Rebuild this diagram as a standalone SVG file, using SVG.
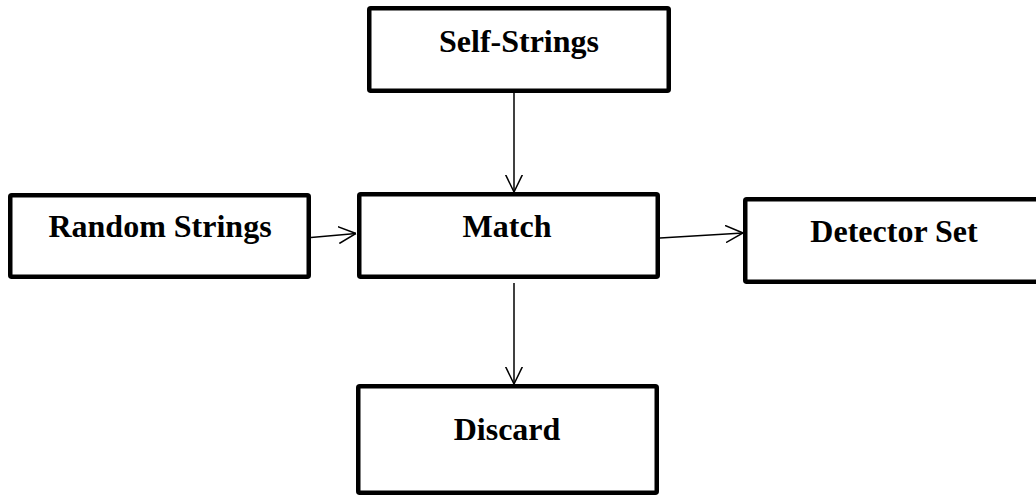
<svg xmlns="http://www.w3.org/2000/svg" width="1036" height="497" viewBox="0 0 1036 497">
  <style>
    .box { fill: #ffffff; stroke: #000000; stroke-width: 4.5; stroke-linejoin: round; }
    .label { font-family: "Liberation Serif", "Times New Roman", serif; font-weight: bold; font-size: 32px; fill: #000000; text-anchor: middle; }
    .edge { fill: none; stroke: #000000; stroke-width: 1.5; marker-end: url(#head); }
  </style>
  <defs>
    <marker id="head" viewBox="0 0 18 18" refX="17.5" refY="9" markerWidth="18" markerHeight="18" markerUnits="userSpaceOnUse" orient="auto">
      <path d="M0,0.5 L17.5,9 L0,17.5" fill="none" stroke="#000000" stroke-width="1.5"/>
    </marker>
  </defs>
  <rect width="1036" height="497" fill="#ffffff"/>

  <g id="connectors">
    <path class="edge" d="M514,93 L514,192"/>
    <path class="edge" d="M311,237.5 L356,233.5"/>
    <path class="edge" d="M660,238 L743,233"/>
    <path class="edge" d="M514,283 L514,384"/>
  </g>

  <g id="self-strings">
    <rect class="box" x="369.25" y="8.25" width="299.5" height="82.5" rx="1.5"/>
    <text class="label" x="519" y="52">Self-Strings</text>
  </g>
  <g id="random-strings">
    <rect class="box" x="10.25" y="195.25" width="298.5" height="81.5" rx="1.5"/>
    <text class="label" x="160" y="237">Random Strings</text>
  </g>
  <g id="match">
    <rect class="box" x="359.25" y="194.25" width="298.5" height="82.5" rx="1.5"/>
    <text class="label" x="507" y="237">Match</text>
  </g>
  <g id="detector-set">
    <rect class="box" x="745.25" y="199.25" width="298" height="82.5" rx="1.5"/>
    <text class="label" x="894" y="242">Detector Set</text>
  </g>
  <g id="discard">
    <rect class="box" x="358.25" y="386.25" width="298.5" height="106.5" rx="1.5"/>
    <text class="label" x="507" y="440">Discard</text>
  </g>
</svg>
